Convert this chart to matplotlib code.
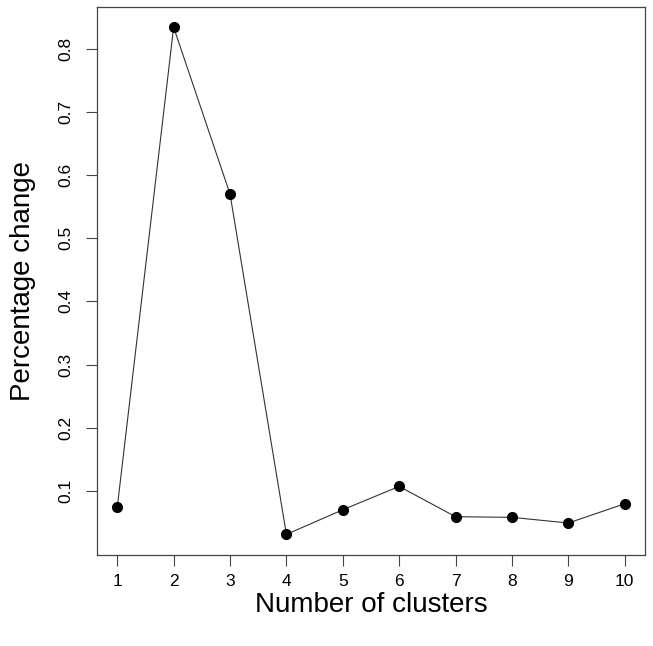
import matplotlib
matplotlib.use("Agg")
from matplotlib import pyplot as plt

# Percentage change in within-cluster error vs. number of clusters
clusters = [1, 2, 3, 4, 5, 6, 7, 8, 9, 10]
pct_change = [0.074, 0.834, 0.570, 0.031, 0.070, 0.107, 0.059, 0.058, 0.049, 0.0795]
y_ticks = [0.1, 0.2, 0.3, 0.4, 0.5, 0.6, 0.7, 0.8]

plt.rcParams["font.family"] = ["Liberation Sans", "DejaVu Sans"]

fig = plt.figure(figsize=(6.53, 6.46), dpi=100)
ax = fig.add_axes([0.1485, 0.141, 0.8392, 0.848])

ax.plot(clusters, pct_change, color="#333333", linewidth=0.8, zorder=2)
ax.plot(clusters, pct_change, "o", color="black", markersize=7, zorder=3)

ax.set_xlim(0.64, 10.36)
ax.set_ylim(-0.0015, 0.866)
ax.set_xticks(clusters)
ax.set_xticklabels([str(c) for c in clusters])
ax.set_yticks(y_ticks)
ax.set_yticklabels([f"{v:.1f}" for v in y_ticks], rotation=90, va="center")

ax.tick_params(direction="out", length=8, width=0.8, color="#444444",
               labelsize=12.5)
ax.tick_params(axis="x", pad=6)
ax.tick_params(axis="y", pad=9)
for s in ax.spines.values():
    s.set_color("#444444")
    s.set_linewidth(0.9)

ax.set_xlabel("Number of clusters", fontsize=20, labelpad=2)
ax.set_ylabel("Percentage change", fontsize=20, labelpad=16)

plt.savefig("out.png", dpi=100)
